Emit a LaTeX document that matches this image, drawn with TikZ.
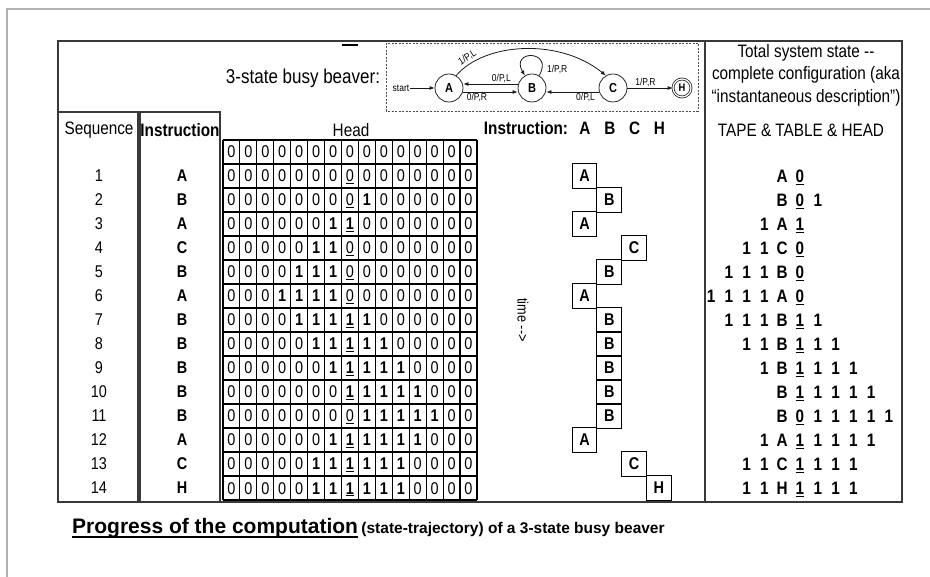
\documentclass[tikz,border=0pt]{standalone}
\usepackage{fontspec}
\setmainfont{Liberation Sans}[FakeStretch=0.85]
\newfontfamily\capfont{Liberation Sans}
\usetikzlibrary{shapes, arrows.meta, positioning, calc}

\newcommand\fs[1]{\fontsize{#1}{#1}\selectfont}
\newcommand\tc[1]{\makebox[17.8pt]{#1}}
\newcommand\rep[1]{\ifnum#1>0 \tc{1}\expandafter\rep\expandafter{\number\numexpr#1-1\relax}\fi}

\begin{document}
\begin{tikzpicture}[x=1pt, y=-1pt,
  frame/.style={draw=gray!45!black, line width=1.3pt},
  gridln/.style={draw=black, line width=1.1pt},
  hdr/.style={font=\fs{18}, inner sep=0pt},
  hdrb/.style={font=\fs{18}\bfseries, inner sep=0pt},
  cell/.style={font=\fs{17}, inner sep=0pt, anchor=base},
  seqn/.style={font=\fs{17}, inner sep=0pt},
  insl/.style={font=\fs{17}\bfseries, inner sep=0pt},
  sbox/.style={draw, line width=1pt, minimum size=24.8pt, inner sep=0pt, font=\fs{17}\bfseries},
  cfg/.style={font=\fs{18}\bfseries, inner sep=0pt, anchor=base},
  st/.style={draw=gray!30!black, circle, line width=0.8pt, minimum size=28pt, inner sep=0pt, font=\fs{13}\bfseries},
  lbl/.style={font=\fs{10}, inner sep=1pt},
  tr/.style={draw=gray!20!black, line width=0.8pt, -{Latex[length=5pt, width=4pt]}}
]
\useasboundingbox (0,0) rectangle (930,577);
\fill[white] (0,0) rectangle (930,577);

\draw[gray!60, line width=1.2pt] (930,9) -- (7,9) -- (7,577);
\draw[frame] (58,41) rectangle (902,502);
\draw[frame] (705,41) -- (705,502);
\draw[frame] (58,112) rectangle (138,502);
\draw[frame] (140,112) rectangle (220,502);
\draw[line width=2.5pt] (342,45) -- (358,45);

% headers
\node[hdr] (seqhd) at (99,130) {Sequence};
\node[hdrb] (inshd) at (180,130) {Instruction};
\node[hdr] (headhd) at (351,130) {Head};
\node[hdrb] (trajhd) at (526,128) {Instruction:};
\foreach \s [count=\col from 0] in {A,B,C,H}
  \node[hdrb] (h\s) at ({585+24.8*\col},128) {\s};
\node[hdr] (tot1) at (806,53) {Total system state -{}-};
\node[hdr] (tot2) at (806,75) {complete configuration (aka};
\node[hdr] (tot3) at (806,98) {“instantaneous description”)};
\node[hdr] (tot4) at (801,130) {TAPE \& TABLE \& HEAD};

% busy beaver
\node[hdr, font=\fs{20}] (bbhd) at (303,78) {3-state busy beaver:};
\draw[gray!60!black, line width=0.8pt, dash pattern=on 2pt off 1.5pt] (386,43) rectangle (698,111);
\node[lbl] (start) at (401,88) {start};
\node[st] (A) at (449,88) {A};
\node[st] (B) at (532,88) {B};
\node[st] (C) at (613,88) {C};
\node[st, minimum size=18pt, double, double distance=1.2pt, font=\fs{11}\bfseries] (H) at (682,88) {H};
\draw[tr] (start) -- (A);
\draw[tr] ([yshift=-4pt]A.east) -- node[lbl, below, pos=0.25] {0/P,R} ([yshift=-4pt]B.west);
\draw[tr] ([yshift=4pt]B.west) -- node[lbl, above, pos=0.3] {0/P,L} ([yshift=4pt]A.east);
\draw[tr] ([yshift=-4pt]C.west) -- node[lbl, below, pos=0.25] {0/P,L} ([yshift=-4pt]B.east);
\draw[tr] (C) -- node[lbl, above, pos=0.4] {1/P,R} (H);
\draw[tr] (B.60) .. controls +(60:30pt) and +(120:30pt) .. node[lbl, pos=0.08, right=4pt] {1/P,R} (B.120);
\draw[tr] (A.60) .. controls (485,42) and (560,38) .. node[lbl, pos=0.14, sloped, above=1pt] {1/P,L} (C.120);

% tape grid
\foreach \lo/\hi [count=\rw from 0] in {0/0,0/0,9/9,7/8,6/7,5/7,4/7,5/9,6/10,7/11,8/12,9/13,7/12,6/11,6/11} {
  \foreach \cl in {1,...,15} {
    \pgfmathtruncatemacro\isone{and(\cl>=\lo,\cl<=\hi)}
    \ifnum\isone=1 \def\dg{\textbf{1}}\else\def\dg{0}\fi
    \ifnum\cl=8 \ifnum\rw>0 \let\dgb\dg \def\dg{\underline{\dgb}}\fi\fi
    \node[cell] (t\rw-\cl) at ({223+(\cl-0.5)*16.93},{140+(\rw+0.5)*24+6}) {\dg};
  }
}
\foreach \i in {0,...,15}
  \draw[gridln] ({223+\i*16.93},140) -- ({223+\i*16.93},500);
\foreach \j in {0,...,15}
  \draw[gridln] (223,{140+\j*24}) -- (477,{140+\j*24});

% sequence, instruction and trajectory
\foreach \s/\col [count=\n] in {A/0,B/1,A/0,C/2,B/1,A/0,B/1,B/1,B/1,B/1,B/1,A/0,C/2,H/3} {
  \node[seqn] (seq\n) at (99,{176+24*(\n-1)}) {\n};
  \node[insl] (il\n) at (182,{176+24*(\n-1)}) {\s};
  \node[sbox] (ins\n) at ({584.5+24.8*\col},{176+24*(\n-1)}) {\s};
}
\node[font=\fs{15}, rotate=-90, inner sep=0pt] (time) at (523,320) {time -{}->};

% total configuration
\foreach \lft/\sym/\hsym/\rgt [count=\n] in {0/A/0/0,0/B/0/1,1/A/1/0,2/C/0/0,3/B/0/0,4/A/0/0,3/B/1/1,2/B/1/2,1/B/1/3,0/B/1/4,0/B/0/5,1/A/1/4,2/C/1/3,2/H/1/3}
  \node[cfg] (cf\n) at (800,{176+24*(\n-1)+6.5}) {\llap{\rep{\lft}\tc{\sym}}\tc{\underline{\hsym}}\rlap{\rep{\rgt}}};

% caption
\node[anchor=base west, inner sep=0pt, font=\capfont\fs{21}\bfseries] (cap) at (72,533) {Progress of the computation};
\draw[line width=2.2pt] ([yshift=-4pt]cap.base west) -- ([yshift=-4pt]cap.base east);
\node[anchor=base west, inner sep=0pt, font=\capfont\fs{15.5}\bfseries] (capsub) at ($(cap.base east)+(3,0)$) {(state-trajectory) of a 3-state busy beaver};
\end{tikzpicture}
\end{document}
